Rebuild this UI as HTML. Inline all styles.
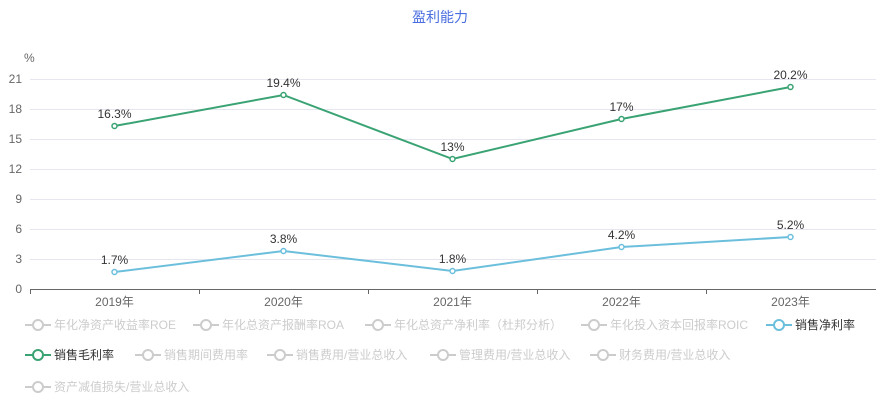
<!DOCTYPE html>
<html><head><meta charset="utf-8"><style>
body{margin:0;background:#fff;font-family:"Liberation Sans","Noto Sans CJK SC",sans-serif}
#w{position:relative;width:880px;height:400px;overflow:hidden}
.lg{position:absolute;font-size:12px;color:#ccc;white-space:nowrap;height:14px;line-height:14px}
.lg svg{position:absolute;left:0;top:0}
.lg span{position:absolute;left:29px;top:0}
</style></head><body><div id="w">
<svg id="c" width="880" height="310" style="position:absolute;left:0;top:0"></svg>
<div id="leg"></div>
</div>
<script>
const categories=["2019年","2020年","2021年","2022年","2023年"];
const grossMargin=[16.3,19.4,13,17,20.2];
const netMargin=[1.7,3.8,1.8,4.2,5.2];
const grossLabels=["16.3%","19.4%","13%","17%","20.2%"];
const netLabels=["1.7%","3.8%","1.8%","4.2%","5.2%"];
const yTicks=[0,3,6,9,12,15,18,21];
const legendItems=[
["年化净资产收益率ROE",25,325,"#ccc",0],["年化总资产报酬率ROA",193,325,"#ccc",0],["年化总资产净利率（杜邦分析）",365,325,"#ccc",0],["年化投入资本回报率ROIC",581,325,"#ccc",0],["销售净利率",766,325,"#6cbfdc",1],
["销售毛利率",25,355,"#3aa373",1],["销售期间费用率",135,355,"#ccc",0],["销售费用/营业总收入",267,355,"#ccc",0],["管理费用/营业总收入",430,355,"#ccc",0],["财务费用/营业总收入",590,355,"#ccc",0],
["资产减值损失/营业总收入",25,387,"#ccc",0]];
const NS="http://www.w3.org/2000/svg";
const svg=document.getElementById('c');
const x0=30,bw=169,y0=289,ppu=10;
const X=i=>x0+bw*(i+0.5);
const Y=v=>y0-v*ppu;
function el(t,a,p){const e=document.createElementNS(NS,t);for(const k in a)e.setAttribute(k,a[k]);(p||svg).appendChild(e);return e;}
let t=el('text',{x:440,y:22,'text-anchor':'middle','font-size':14,fill:'#4a6ee0'});t.textContent='盈利能力';


t=el('text',{x:24,y:62,'font-size':12,fill:'#666'});t.textContent='%';


yTicks.forEach(v=>{
 if(v>0){const g=el('line',{x1:x0,x2:876,y1:Y(v)+.5,y2:Y(v)+.5,stroke:'#e6e6f0'});
 
 }
 const l=el('text',{x:22,y:Y(v)+4,'text-anchor':'end','font-size':12,fill:'#666'});l.textContent=v;
 
 
});
const ax=el('line',{x1:x0,x2:876,y1:y0+.5,y2:y0+.5,stroke:'#666'});


categories.forEach((c,i)=>{
 const tk=el('line',{x1:x0+bw*i+.5,x2:x0+bw*i+.5,y1:y0,y2:y0+5,stroke:'#666'});
 
 
 const l=el('text',{x:X(i),y:y0+17,'text-anchor':'middle','font-size':12,fill:'#666'});l.textContent=c;
 
 
});
function series(vals,labels,color,name){
 const p=el('polyline',{points:vals.map((v,i)=>X(i)+','+Y(v)).join(' '),fill:'none',stroke:color,'stroke-width':2});
 
 
 vals.forEach((v,i)=>{
  const c=el('circle',{cx:X(i),cy:Y(v),r:2.5,fill:'#fff',stroke:color,'stroke-width':1.5});
  
  
  const l=el('text',{x:X(i),y:Y(v)-8,'text-anchor':'middle','font-size':12,fill:'#333'});l.textContent=labels[i];
  
  
 });
}
series(grossMargin,grossLabels,'#3aa373','gross-margin');
series(netMargin,netLabels,'#6cbfdc','net-margin');
const leg=document.getElementById('leg');
legendItems.forEach(([txt,x,y,col,on])=>{
 const d=document.createElement('div');d.className='lg';d.style.left=x+'px';d.style.top=(y-7)+'px';
 
 
 d.innerHTML='<svg width="26" height="14"><line x1="0" x2="26" y1="7" y2="7" stroke="'+col+'" stroke-width="2"/><circle cx="13" cy="7" r="5" fill="#fff" stroke="'+col+'" stroke-width="2"/></svg><span style="color:'+(on?'#333':'#ccc')+'">'+txt+'</span>';
 leg.appendChild(d);
});
</script></body></html>
